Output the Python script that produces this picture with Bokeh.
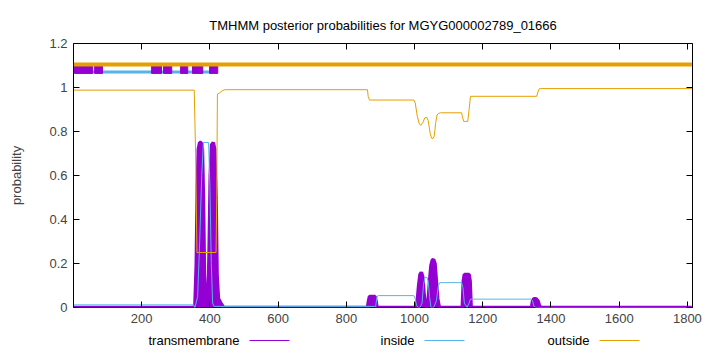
from bokeh.plotting import figure
from bokeh.layouts import column
from bokeh.models import Range1d, LinearAxis, FixedTicker, Title
from bokeh.core.properties import value
from bokeh.embed import file_html
from bokeh.resources import INLINE

# ---------------- data ----------------
seq_len = 1815
x_ticks = [200, 400, 600, 800, 1000, 1200, 1400, 1600, 1800]
y_ticks = [0, 0.2, 0.4, 0.6, 0.8, 1.0, 1.2]
y_tick_labels = ["0", "0.2", "0.4", "0.6", "0.8", "1", "1.2"]

# transmembrane posterior
tm_x = [1, 352, 356, 360, 363, 366, 370, 374, 378, 381, 384, 388, 392, 395, 398, 401, 405, 410, 414, 418, 421, 425, 432, 440,
        862, 865, 868, 876, 884, 887, 890,
        1004, 1008, 1012, 1016, 1020, 1024, 1028, 1032, 1036, 1040, 1044, 1048, 1052, 1056, 1060, 1064, 1068, 1072, 1076,
        1140, 1143, 1146, 1160, 1163, 1166,
        1343, 1346, 1350, 1356, 1362, 1366, 1370, 1813]
tm_y = [0, 0, 0.01, 0.2, 0.55, 0.72, 0.75, 0.75, 0.72, 0.5, 0.15, 0.03, 0.02, 0.05, 0.3, 0.6, 0.74, 0.75, 0.72, 0.5, 0.15, 0.04, 0.02, 0.0,
        0.0, 0.03, 0.05, 0.05, 0.05, 0.03, 0.0,
        0.0, 0.03, 0.1, 0.15, 0.16, 0.14, 0.06, 0.01, 0.0, 0.03, 0.12, 0.19, 0.215, 0.218, 0.2, 0.12, 0.04, 0.005, 0.0,
        0.0, 0.12, 0.15, 0.15, 0.12, 0.0,
        0.0, 0.03, 0.04, 0.04, 0.03, 0.01, 0.0, 0.0]

# inside posterior
in_x = [1, 352, 356, 364, 370, 376, 381, 396, 400, 404, 408, 412, 886, 890, 894, 998, 1002, 1006, 1010, 1016, 1022, 1026,
        1030, 1036, 1040, 1044, 1048, 1056, 1064, 1070, 1074, 1138, 1142, 1146, 1154, 1160, 1164, 1342, 1346, 1350, 1356, 1813]
in_y = [0.012, 0.012, 0.0, 0.05, 0.3, 0.6, 0.75, 0.75, 0.55, 0.2, 0.02, 0.005, 0.005, 0.05, 0.054, 0.054, 0.04, 0.01, 0.0,
        0.0, 0.02, 0.1, 0.135, 0.138, 0.12, 0.05, 0.0, 0.0, 0.03, 0.1, 0.113, 0.113, 0.09, 0.02, 0.0, 0.02, 0.038, 0.038,
        0.03, 0.005, 0.0, 0.0]

# outside posterior
out_x = [1, 354, 358, 362, 366, 418, 420, 422, 428, 436, 444, 862, 864, 868, 998, 1002, 1008, 1014, 1018, 1024, 1030, 1036,
         1040, 1046, 1050, 1054, 1058, 1062, 1066, 1070, 1076, 1080, 1138, 1140, 1144, 1156, 1160, 1164, 1358, 1362, 1366,
         1370, 1813]
out_y = [0.988, 0.988, 0.7, 0.25, 0.25, 0.25, 0.5, 0.97, 0.975, 0.985, 0.99, 0.99, 0.96, 0.943, 0.943, 0.93, 0.87, 0.835,
         0.828, 0.84, 0.862, 0.864, 0.85, 0.79, 0.77, 0.768, 0.78, 0.84, 0.875, 0.882, 0.885, 0.885, 0.885, 0.87, 0.846,
         0.846, 0.9, 0.96, 0.96, 0.98, 0.995, 0.995, 0.995]

# predicted topology bars on top
top_out_x = [1, 1813]
top_out_y = [1.105, 1.105]
top_in_x = [1, 405]
top_in_y = [1.07, 1.07]
top_tm_left = [3, 62, 229, 264, 314, 349, 399]
top_tm_right = [56, 85, 258, 288, 335, 379, 423]
top_tm_bottom = 1.064
top_tm_top = 1.098

legend_names = ["transmembrane", "inside", "outside"]

C_TM = "#9400D3"
C_IN = "#56B4E9"
C_OUT = "#E69F00"
FONT = "Liberation Sans"

p = figure(width=720, height=333, output_backend="svg", toolbar_location=None,
           x_range=Range1d(0, seq_len), y_range=Range1d(0, 1.2),
           min_border_left=73, min_border_right=28, min_border_top=43, min_border_bottom=26,
           frame_width=619, frame_height=264)
p.background_fill_color = "white"
p.border_fill_color = "white"
p.outline_line_color = "black"
p.outline_line_width = 1
p.xgrid.visible = False
p.ygrid.visible = False

p.title = Title(text="TMHMM posterior probabilities for MGYG000002789_01666", align="center",
                text_font=FONT, text_font_size="13px", text_font_style="normal", text_color="black",
                offset=0, standoff=21)

# curves
p.varea(x=tm_x, y1=0, y2=tm_y, fill_color=C_TM)
p.line(tm_x, tm_y, line_color=C_TM, line_width=3.5)
p.line(in_x, in_y, line_color=C_IN, line_width=1)
p.line(out_x, out_y, line_color=C_OUT, line_width=1)

# top bars
p.line(top_in_x, top_in_y, line_color=C_IN, line_width=3)
p.quad(left=top_tm_left, right=top_tm_right, bottom=top_tm_bottom, top=top_tm_top,
       fill_color=C_TM, line_color=C_TM, line_width=1)
p.line(top_out_x, top_out_y, line_color=C_OUT, line_width=4)

# axes
for ax in p.xaxis:
    ax.ticker = FixedTicker(ticks=x_ticks)
for ax in p.yaxis:
    ax.ticker = FixedTicker(ticks=y_ticks)
    ax.major_label_overrides = {t: l for t, l in zip(y_ticks, y_tick_labels)}
    ax.axis_label = "probability"
    ax.axis_label_text_font_style = "normal"
    ax.axis_label_text_font = FONT
    ax.axis_label_text_font_size = "13px"
    ax.axis_label_standoff = 22

for ax in list(p.xaxis) + list(p.yaxis):
    ax.major_tick_in = 6
    ax.major_tick_out = 0
    ax.minor_tick_in = 0
    ax.minor_tick_out = 0
    ax.axis_line_color = None
    ax.major_label_text_font = FONT
    ax.major_label_text_font_size = "13px"
    ax.major_label_standoff = 6

top_ax = LinearAxis(ticker=FixedTicker(ticks=x_ticks), major_label_overrides={t: "" for t in x_ticks},
                    major_tick_in=6, major_tick_out=0, minor_tick_in=0, minor_tick_out=0, axis_line_color=None)
right_ax = LinearAxis(ticker=FixedTicker(ticks=y_ticks), major_label_overrides={t: "" for t in y_ticks},
                      major_tick_in=6, major_tick_out=0, minor_tick_in=0, minor_tick_out=0, axis_line_color=None)
p.add_layout(top_ax, "above")
p.add_layout(right_ax, "right")

# legend strip below (gnuplot style: label then line sample); x in pixels from the frame's left edge
leg = figure(width=720, height=19, frame_width=619, frame_height=19, output_backend="svg", toolbar_location=None,
             x_range=Range1d(0, 619), y_range=Range1d(0, 19), x_axis_location=None, y_axis_location=None,
             min_border_left=73, min_border_right=28, min_border_top=0, min_border_bottom=0)
leg.grid.visible = False
leg.outline_line_color = None
leg.background_fill_color = "white"
leg.border_fill_color = "white"
legend_cols = [C_TM, C_IN, C_OUT]
legend_right = [166, 341, 516]
leg.text(x=legend_right, y=[12] * 3, text=legend_names, text_align="right", text_baseline="middle",
         text_font=value(FONT), text_font_size="13px", text_color="black")
leg.segment(x0=[r + 10 for r in legend_right], y0=[12] * 3, x1=[r + 50 for r in legend_right], y1=[12] * 3,
            line_color=legend_cols, line_width=1)

layout = column(p, leg, spacing=0)
open("out.html", "w").write(file_html(layout, INLINE))
